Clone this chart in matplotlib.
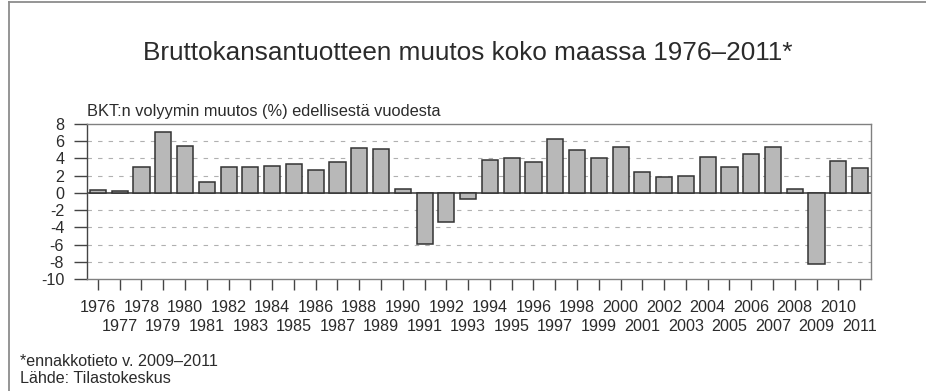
import matplotlib
matplotlib.use("Agg")
import matplotlib.pyplot as plt
from matplotlib.lines import Line2D

# GDP volume change (%) from previous year, Finland
years = list(range(1976, 2012))
change = [0.3, 0.2, 3.0, 7.1, 5.4, 1.3, 3.0, 3.0, 3.1, 3.3,
          2.7, 3.6, 5.2, 5.1, 0.5, -5.9, -3.4, -0.7, 3.8, 4.0,
          3.6, 6.2, 5.0, 4.0, 5.3, 2.4, 1.9, 2.0, 4.2, 3.0,
          4.5, 5.3, 0.4, -8.3, 3.7, 2.9]
y_ticks = [8, 6, 4, 2, 0, -2, -4, -6, -8, -10]

plt.rcParams['font.family'] = ['Liberation Sans', 'DejaVu Sans']
plt.rcParams['axes.unicode_minus'] = False
txt = '#2b2b2b'

fig = plt.figure(figsize=(9.26, 3.91), dpi=100)
ax = fig.add_axes([0.094, 0.2864, 0.8466, 0.3965])

x = list(range(len(years)))
ax.bar(x, change, width=0.74, color='#b8b8b8', edgecolor='#333333',
       linewidth=1.1, zorder=3)

ax.set_xlim(-0.5, len(years) - 0.5)
ax.set_ylim(-10, 8)
ax.set_yticks(y_ticks)
ax.set_yticklabels([str(v) for v in y_ticks])

# even years on the first label row (major), odd years on the second (minor)
even = [i for i, y in enumerate(years) if y % 2 == 0]
odd = [i for i, y in enumerate(years) if y % 2 == 1]
ax.set_xticks(even)
ax.set_xticklabels([str(years[i]) for i in even])
ax.set_xticks(odd, minor=True)
ax.set_xticklabels([str(years[i]) for i in odd], minor=True)

ax.tick_params(axis='x', which='major', direction='out', length=8, width=1.0,
               color='#444444', pad=7, labelsize=11.6, labelcolor=txt)
ax.tick_params(axis='x', which='minor', direction='out', length=8, width=1.0,
               color='#444444', pad=20.5, labelsize=11.6, labelcolor=txt)
ax.tick_params(axis='y', direction='out', length=9.5, width=1.0,
               color='#444444', pad=7, labelsize=11.6, labelcolor=txt)

for v in y_ticks:
    if v in (0, 8, -10):
        continue
    ax.axhline(v, color='#b0b0b0', linewidth=0.8, dashes=(4, 5.5), zorder=1)
ax.axhline(0, color='#333333', linewidth=1.1, zorder=2)

for side in ['top', 'right', 'bottom']:
    ax.spines[side].set_color('#808080')
    ax.spines[side].set_linewidth(1.0)
ax.spines['left'].set_color('#444444')
ax.spines['left'].set_linewidth(1.0)

fig.text(0.505, 0.8465, 'Bruttokansantuotteen muutos koko maassa 1976–2011*',
         ha='center', va='baseline', fontsize=18.8, color=txt)
fig.text(0.094, 0.7033, 'BKT:n volyymin muutos (%) edellisestä vuodesta',
         ha='left', va='baseline', fontsize=11.8, color=txt)
fig.text(0.0216, 0.0639, '*ennakkotieto v. 2009–2011',
         ha='left', va='baseline', fontsize=11.6, color=txt)
fig.text(0.0216, 0.0205, 'Lähde: Tilastokeskus',
         ha='left', va='baseline', fontsize=11.6, color=txt)

# frame around the figure (left and top edges)
fig.add_artist(Line2D([0.0097, 0.0097], [0.0, 0.996], transform=fig.transFigure,
                      color='#8c8c8c', linewidth=1.3))
fig.add_artist(Line2D([0.0097, 1.0], [0.996, 0.996], transform=fig.transFigure,
                      color='#8c8c8c', linewidth=1.3))

fig.savefig('out.png', dpi=100)
